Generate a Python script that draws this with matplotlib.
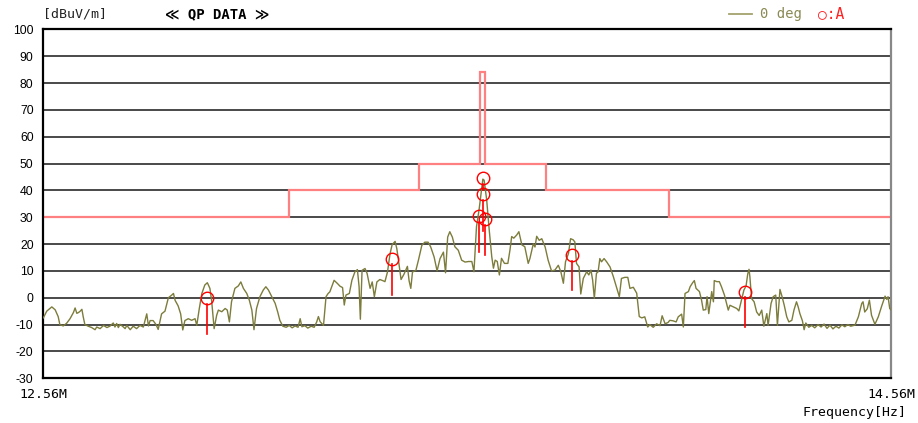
import matplotlib
matplotlib.use("Agg")
import matplotlib.pyplot as plt
import numpy as np

# measured trace (MHz, dBuV/m)
freq = [12.560, 12.568, 12.580, 12.588, 12.595, 12.599, 12.607, 12.615, 12.623, 12.631,
        12.635, 12.639, 12.643, 12.647, 12.651, 12.654, 12.658, 12.666, 12.674, 12.682,
        12.686, 12.694, 12.702, 12.710, 12.717, 12.725, 12.729, 12.733, 12.737, 12.741,
        12.749, 12.753, 12.757, 12.765, 12.772, 12.780, 12.788, 12.796, 12.804, 12.808,
        12.812, 12.819, 12.826, 12.831, 12.839, 12.847, 12.855, 12.863, 12.867, 12.871,
        12.878, 12.884, 12.889, 12.894, 12.902, 12.910, 12.918, 12.922, 12.928, 12.934,
        12.941, 12.947, 12.953, 12.957, 12.963, 12.969, 12.973, 12.981, 12.989, 12.994,
        12.999, 13.004, 13.012, 13.020, 13.026, 13.032, 13.040, 13.046, 13.052, 13.057,
        13.063, 13.071, 13.079, 13.085, 13.091, 13.099, 13.107, 13.113, 13.118, 13.125,
        13.133, 13.140, 13.147, 13.154, 13.161, 13.166, 13.170, 13.177, 13.184, 13.192,
        13.199, 13.205, 13.209, 13.213, 13.221, 13.227, 13.232, 13.236, 13.246, 13.254,
        13.260, 13.266, 13.270, 13.274, 13.282, 13.288, 13.295, 13.301, 13.305, 13.308,
        13.312, 13.319, 13.324, 13.331, 13.336, 13.341, 13.347, 13.354, 13.362, 13.366,
        13.372, 13.378, 13.383, 13.390, 13.394, 13.399, 13.404, 13.411, 13.419, 13.423,
        13.427, 13.431, 13.439, 13.445, 13.453, 13.460, 13.468, 13.474, 13.482, 13.489,
        13.496, 13.504, 13.509, 13.514, 13.519, 13.525, 13.531, 13.539, 13.547, 13.555,
        13.563, 13.571, 13.576, 13.582, 13.588, 13.592, 13.597, 13.600, 13.606, 13.612,
        13.618, 13.622, 13.626, 13.631, 13.636, 13.641, 13.648, 13.656, 13.661, 13.665,
        13.670, 13.677, 13.682, 13.689, 13.696, 13.704, 13.708, 13.716, 13.720, 13.724,
        13.730, 13.736, 13.744, 13.751, 13.759, 13.767, 13.775, 13.781, 13.787, 13.792,
        13.799, 13.804, 13.810, 13.814, 13.818, 13.824, 13.828, 13.834, 13.842, 13.847,
        13.852, 13.856, 13.860, 13.865, 13.869, 13.873, 13.877, 13.883, 13.889, 13.897,
        13.905, 13.913, 13.919, 13.924, 13.932, 13.939, 13.944, 13.952, 13.960, 13.966,
        13.972, 13.979, 13.986, 13.991, 13.999, 14.007, 14.015, 14.020, 14.027, 14.034,
        14.038, 14.046, 14.053, 14.058, 14.066, 14.070, 14.074, 14.082, 14.086, 14.092,
        14.096, 14.100, 14.108, 14.113, 14.117, 14.123, 14.126, 14.130, 14.137, 14.141,
        14.143, 14.149, 14.155, 14.160, 14.167, 14.172, 14.176, 14.180, 14.188, 14.196,
        14.201, 14.208, 14.213, 14.218, 14.222, 14.225, 14.227, 14.231, 14.237, 14.243,
        14.249, 14.255, 14.260, 14.267, 14.270, 14.277, 14.282, 14.288, 14.292, 14.298,
        14.303, 14.308, 14.314, 14.319, 14.326, 14.331, 14.337, 14.341, 14.345, 14.351,
        14.355, 14.359, 14.366, 14.373, 14.380, 14.388, 14.395, 14.402, 14.409, 14.416,
        14.423, 14.430, 14.437, 14.444, 14.451, 14.458, 14.465, 14.475, 14.483, 14.491,
        14.494, 14.498, 14.504, 14.509, 14.514, 14.522, 14.530, 14.538, 14.546, 14.550,
        14.553, 14.557, 14.560]
level = [-7.5, -5.0, -3.4, -4.5, -7.0, -10.0, -10.5, -9.5, -7.8, -5.5,
         -3.8, -5.8, -5.5, -5.0, -4.3, -7.0, -10.0, -10.6, -11.1, -11.9,
         -10.9, -11.5, -10.3, -11.1, -10.6, -9.4, -10.9, -9.6, -11.1, -9.9,
         -10.9, -11.5, -10.3, -11.9, -10.6, -11.5, -10.3, -10.9, -6.0, -10.5,
         -8.5, -8.5, -10.0, -11.8, -6.0, -5.0, 0.0, 1.0, 1.6, -1.0,
         -3.0, -6.0, -12.0, -8.5, -7.8, -8.4, -7.8, -10.3, -4.0, 1.6,
         4.75, 5.6, 3.5, -0.9, -11.5, -6.5, -4.6, -5.2, -4.0, -4.6,
         -9.0, -1.5, 3.5, 4.4, 5.9, 3.5, 1.6, -0.9, -4.6, -11.9,
         -4.0, 0.4, 2.9, 4.1, 2.9, 0.4, -2.1, -5.3, -8.4, -10.6,
         -11.0, -10.3, -11.2, -10.5, -11.0, -7.8, -10.8, -10.4, -11.3, -10.6,
         -11.0, -9.0, -7.0, -8.9, -10.3, 0.4, 1.6, 2.2, 6.5, 5.3,
         4.3, 3.8, -2.7, 1.0, 1.6, 6.5, 9.6, 10.5, 4.1, -8.0,
         10.2, 10.9, 9.0, 3.5, 5.9, 0.4, 5.9, 6.8, 6.3, 6.0,
         9.6, 16.4, 19.8, 21.0, 18.3, 12.7, 6.8, 8.8, 11.7, 6.3,
         3.5, 9.6, 10.2, 14.0, 19.5, 20.7, 20.7, 18.9, 15.2, 10.0,
         14.6, 17.0, 9.3, 22.6, 24.6, 22.6, 19.0, 17.7, 14.0, 13.3,
         13.5, 13.5, 9.7, 26.5, 32.7, 37.7, 44.2, 43.8, 36.5, 25.3,
         15.3, 11.0, 14.0, 13.5, 8.5, 14.7, 12.8, 12.8, 17.8, 22.8,
         22.2, 23.4, 24.6, 19.7, 19.0, 12.8, 14.6, 20.1, 18.9, 22.9,
         21.4, 22.0, 18.9, 14.0, 10.0, 10.3, 12.1, 9.7, 5.4, 13.4,
         16.5, 22.0, 21.6, 20.8, 12.8, 11.5, 1.4, 7.2, 9.7, 8.5,
         10.3, 6.6, -0.2, 9.1, 9.7, 14.6, 13.4, 14.6, 13.4, 11.5,
         7.8, 3.5, 0.4, 7.2, 7.6, 7.6, 3.5, 3.9, 1.7, -7.0,
         -7.5, -7.1, -10.9, -10.0, -11.0, -9.7, -10.4, -6.7, -9.7, -9.2,
         -8.4, -8.6, -9.0, -7.1, -6.1, -10.9, 1.6, 2.3, 4.1, 5.6,
         6.4, 3.5, 2.3, -0.9, -4.6, -4.4, 0.4, -5.9, 2.3, -1.5,
         6.4, 6.0, 6.0, 4.1, 1.0, -2.1, -4.6, -2.8, -3.4, -4.0,
         -4.9, -0.3, 2.9, 4.4, 8.9, 10.6, 7.9, -0.3, -1.5, -5.3,
         -6.6, -4.6, -10.6, -5.9, -10.3, -2.1, 0.4, 1.0, -10.3, 3.1,
         0.4, -2.75, -7.1, -9.0, -8.4, -4.6, -1.5, -3.4, -5.9, -8.6,
         -11.9, -9.4, -11.0, -10.3, -11.2, -10.0, -10.9, -9.8, -11.4, -10.2,
         -11.6, -10.6, -11.3, -10.1, -10.8, -10.0, -10.6, -10.2, -7.1, -2.1,
         -1.5, -5.3, -4.1, -0.9, -6.5, -9.9, -7.1, -3.1, 0.6, -0.6,
         0.4, -4.0, -4.5]

# limit line steps
limit_edges = [12.56, 13.14, 13.446, 13.591, 13.603, 13.746, 14.036, 14.56]
limit_level = [30, 40, 50, 84, 50, 40, 30]

# marked points (QP circle, line down to lower reading)
mark_freq = [12.947, 13.383, 13.597, 13.598, 13.589, 13.603, 13.807, 14.215]
mark_qp = [-0.2, 14.6, 44.5, 38.5, 30.5, 29.3, 16.0, 2.3]
mark_low = [-13.6, 1.2, 40.0, 25.0, 17.0, 16.0, 2.9, -11.0]

fig = plt.figure(figsize=(9.18, 4.23), dpi=100)
ax = fig.add_axes([0.0472, 0.1057, 0.9234, 0.825])

for y in range(-20, 100, 10):
    ax.axhline(y, color='#3a3a3a', lw=1.3, zorder=1)

# limit line
ax.stairs(limit_level, limit_edges, color='#ff8080', lw=1.6, baseline=None, zorder=2)

ax.plot(freq, level, color='#7c7c3c', lw=1.0, zorder=3)

r = 2.2
for f, q, lo in zip(mark_freq, mark_qp, mark_low):
    ax.plot([f, f], [lo, q - r], color='#ff0000', lw=1.2, zorder=4)
ax.plot(mark_freq, mark_qp, 'o', mfc='none', mec='#ff0000', ms=9, mew=1.0, zorder=5)

ax.set_xlim(12.56, 14.56)
ax.set_ylim(-30, 100)
ax.set_yticks(range(-30, 101, 10))
ax.set_yticklabels([str(v) for v in range(-30, 101, 10)], family='Liberation Sans', fontsize=8.8)
ax.tick_params(axis='y', length=0, pad=7)
ax.set_xticks([12.56, 14.56])
ax.set_xticklabels(['12.56M', '14.56M'], family='DejaVu Sans Mono', fontsize=9.5)
ax.tick_params(axis='x', length=0, pad=7)

for s in ['top', 'left', 'bottom']:
    ax.spines[s].set_color('black')
    ax.spines[s].set_linewidth(1.6)
ax.spines['right'].set_color('#888888')
ax.spines['right'].set_linewidth(1.6)

fig.text(43 / 918, 1 - 14 / 423, '[dBuV/m]', family='DejaVu Sans Mono', fontsize=9.5,
         va='center', ha='left', color='#222222')
fig.text(165 / 918, 1 - 14 / 423, '≪ QP DATA ≫', family=['DejaVu Sans Mono', 'DejaVu Sans'],
         fontsize=10, fontweight='bold', va='center', ha='left')
fig.lines.append(plt.Line2D([729 / 918, 752 / 918], [1 - 14 / 423] * 2, transform=fig.transFigure,
                            color='#a3a36e', lw=1.3))
fig.text(760 / 918, 1 - 14 / 423, '0 deg', family='DejaVu Sans Mono', fontsize=10,
         va='center', ha='left', color='#8a8a55')
fig.text(818 / 918, 1 - 14 / 423, '○:A', family=['DejaVu Sans Mono', 'DejaVu Sans'], fontsize=10.5,
         va='center', ha='left', color='#ff2020')
fig.text(906 / 918, 1 - 412 / 423, 'Frequency[Hz]', family='DejaVu Sans Mono', fontsize=9.5,
         va='center', ha='right')

fig.savefig('out.png', dpi=100, facecolor='white')
